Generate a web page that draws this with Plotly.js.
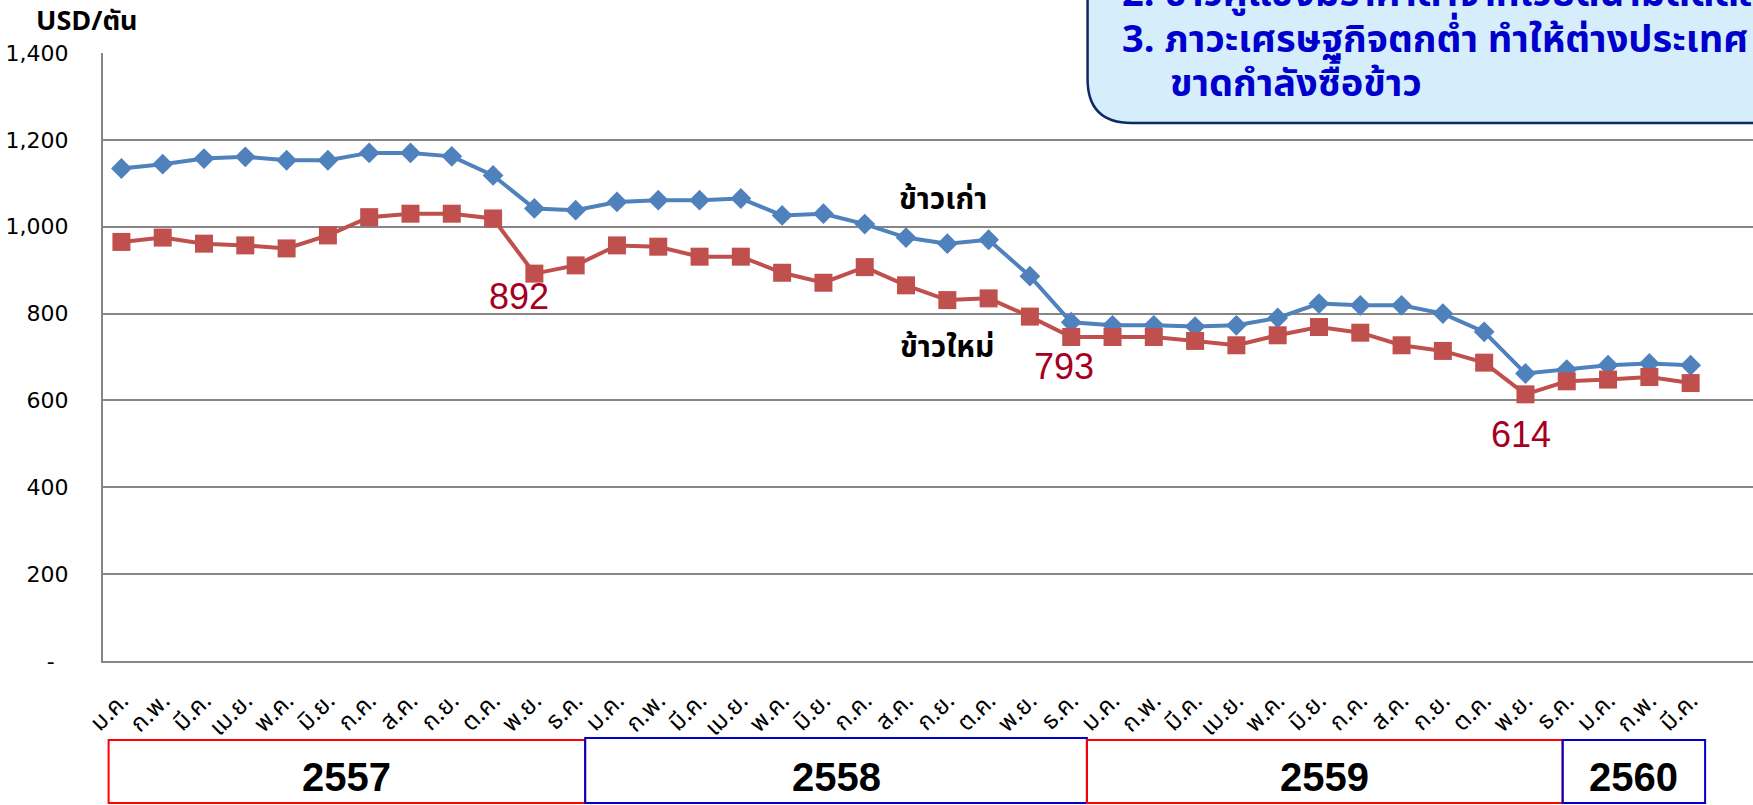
<!DOCTYPE html>
<html>
<head>
<meta charset="utf-8">
<script src="https://cdn.plot.ly/plotly-3.0.1.min.js"></script>
<style>
  html, body { margin: 0; padding: 0; background: #ffffff; }
  #chart { width: 1753px; height: 805px; }
</style>
</head>
<body>
<div id="chart"></div>
<script>
// ---------------- data ----------------
const months = ['ม.ค.','ก.พ.','มี.ค.','เม.ย.','พ.ค.','มิ.ย.','ก.ค.','ส.ค.','ก.ย.','ต.ค.','พ.ย.','ธ.ค.'];
const years = ['2557','2558','2559','2560'];
const monthsPerYear = [12, 12, 12, 3];

const oldRiceName = 'ข้าวเก่า';
const newRiceName = 'ข้าวใหม่';

const oldRice = [1134,1144,1157,1161,1153,1153,1170,1170,1162,1118,1042,1038,
                 1057,1061,1061,1065,1026,1030,1006,975,961,970,886,780,
                 773,773,770,773,790,823,819,819,800,758,662,671,
                 681,685,681];
const newRice = [965,975,961,957,950,980,1022,1030,1030,1019,892,911,
                 957,954,931,931,894,871,907,865,831,835,793,746,
                 746,746,737,727,750,769,756,727,714,687,614,644,
                 648,654,640];

const yTickVals = [0,200,400,600,800,1000,1200,1400];
const yTickText = ['-\u00a0\u00a0','200','400','600','800','1,000','1,200','1,400'];

const yUnit = 'USD/ตัน';
const noteLines = [
  '2. ข้าวคู่แข่งมีราคาต่ำจากเวียดนามตัดตลาดต่างประเทศ',
  '3. ภาวะเศรษฐกิจตกต่ำ ทำให้ต่างประเทศ',
  'ขาดกำลังซื้อข้าว'
];
// indices of labelled low points on the new-rice series
const labelIdx = [10, 22, 34];

// ---------------- derived ----------------
const monthLabels = [];
monthsPerYear.forEach(n => { for (let i = 0; i < n; i++) monthLabels.push(months[i]); });
const xs = monthLabels.map((_, i) => i);

// ---------------- geometry helpers (pixel -> paper) ----------------
const W = 1753, H = 805;
const mL = 103.3, mR = 0, mT = 52.7, mB = 144;
const plotW = W - mL - mR, plotH = H - mT - mB;
const px = x => (x - mL) / plotW;
const py = y => (H - mB - y) / plotH;

const thaiFont = "Tahoma, 'Noto Sans Thai', 'Noto Sans', 'DejaVu Sans', sans-serif";
const numFont = "'DejaVu Sans', Tahoma, sans-serif";

// ---------------- traces ----------------
const traces = [
  {
    x: xs, y: oldRice, name: oldRiceName, type: 'scatter', mode: 'lines+markers',
    line: { color: '#4F81BD', width: 4 },
    marker: { symbol: 'diamond', size: 16, color: '#4F81BD' },
    cliponaxis: false
  },
  {
    x: xs, y: newRice, name: newRiceName, type: 'scatter', mode: 'lines+markers',
    line: { color: '#C0504D', width: 4 },
    marker: { symbol: 'square', size: 18, color: '#C0504D' },
    cliponaxis: false
  }
];

// ---------------- shapes ----------------
const shapes = [];
// year boxes (x in category units)
const boxEdges = [-0.31, 11.23, 23.38, 34.9, 38.35];
const boxColors = ['#FF0000', '#0000CC', '#FF0000', '#0000CC'];
const boxTops = [740, 738, 740, 740];
years.forEach((yr, i) => {
  shapes.push({
    type: 'rect', xref: 'x', yref: 'paper',
    x0: boxEdges[i], x1: boxEdges[i + 1],
    y0: py(boxTops[i]), y1: py(803),
    line: { color: boxColors[i], width: 2 },
    fillcolor: 'rgba(0,0,0,0)', layer: 'above'
  });
});

// callout box (rounded corner at bottom-left), extends beyond top/right
(function () {
  const L = 1087.7, B = 122.7, R = 1790, T = -40, r = 44;
  const P = (x, y) => px(x).toFixed(5) + ',' + py(y).toFixed(5);
  const path = 'M ' + P(L, T) +
    ' L ' + P(L, B - r) +
    ' Q ' + P(L, B) + ' ' + P(L + r, B) +
    ' L ' + P(R, B) +
    ' L ' + P(R, T) + ' Z';
  shapes.push({
    type: 'path', xref: 'paper', yref: 'paper', path: path,
    fillcolor: '#D6EEFC', line: { color: '#0F2A62', width: 2.5 }, layer: 'above'
  });
})();

// ---------------- annotations ----------------
const annotations = [];
// y unit title
annotations.push({
  xref: 'paper', yref: 'paper', x: px(34), y: py(21), xanchor: 'left', yanchor: 'middle',
  text: '<b>' + yUnit + '</b>', showarrow: false,
  font: { family: thaiFont, size: 27, color: '#000000' }
});
// series labels
annotations.push({
  xref: 'x', yref: 'y', x: 19.9, y: 1061, text: '<b>' + oldRiceName + '</b>', showarrow: false,
  font: { family: thaiFont, size: 30, color: '#000000' }
});
annotations.push({
  xref: 'x', yref: 'y', x: 20.0, y: 720, text: '<b>' + newRiceName + '</b>', showarrow: false,
  font: { family: thaiFont, size: 30, color: '#000000' }
});
// low-point value labels
const labelPos = [[9.62, 840], [22.82, 677], [33.88, 522]];
labelIdx.forEach((idx, k) => {
  annotations.push({
    xref: 'x', yref: 'y', x: labelPos[k][0], y: labelPos[k][1],
    text: String(newRice[idx]), showarrow: false,
    font: { family: "'Liberation Sans', Arial, sans-serif", size: 36, color: '#A50021' }
  });
});
// year labels
const yearCenters = [];
for (let i = 0; i < years.length; i++) yearCenters.push((boxEdges[i] + boxEdges[i + 1]) / 2);
years.forEach((yr, i) => {
  annotations.push({
    xref: 'x', yref: 'paper', x: yearCenters[i], y: py(777), yanchor: 'middle',
    text: '<b>' + yr + '</b>', showarrow: false,
    font: { family: "'Liberation Sans', Arial, sans-serif", size: 40, color: '#000000' }
  });
});
// callout text lines (line 2 is partly above the picture's top edge)
const noteX = [1120, 1120, 1168];
const noteY = [-6, 40, 84];
noteLines.forEach((t, i) => {
  annotations.push({
    xref: 'paper', yref: 'paper', x: px(noteX[i]), y: py(noteY[i]),
    xanchor: 'left', yanchor: 'middle', align: 'left', showarrow: false,
    text: '<b>' + t + '</b>',
    font: { family: thaiFont, size: 38, color: '#0000CC' }
  });
});

// ---------------- layout ----------------
const layout = {
  width: W, height: H,
  margin: { l: mL, r: mR, t: mT, b: mB, pad: 0 },
  paper_bgcolor: '#ffffff', plot_bgcolor: '#ffffff',
  showlegend: false,
  xaxis: {
    range: [-0.446, 39.51], autorange: false,
    tickmode: 'array', tickvals: xs, ticktext: monthLabels,
    tickangle: -45, ticks: '', showgrid: false, zeroline: false,
    showline: true, linecolor: '#868686', linewidth: 2,
    ticklabelstandoff: 14,
    tickfont: { family: thaiFont, size: 24, color: '#000000' },
    automargin: false, fixedrange: true
  },
  yaxis: {
    range: [0, 1400], autorange: false,
    tickmode: 'array', tickvals: yTickVals, ticktext: yTickText,
    ticks: '', showgrid: true, gridcolor: '#868686', gridwidth: 2,
    zeroline: false, showline: true, linecolor: '#868686', linewidth: 2,
    ticklabelstandoff: 28,
    tickfont: { family: numFont, size: 22, color: '#000000' },
    automargin: false, fixedrange: true
  },
  shapes: shapes,
  annotations: annotations
};

Plotly.newPlot('chart', traces, layout, { displayModeBar: false, staticPlot: true });
</script>
</body>
</html>
